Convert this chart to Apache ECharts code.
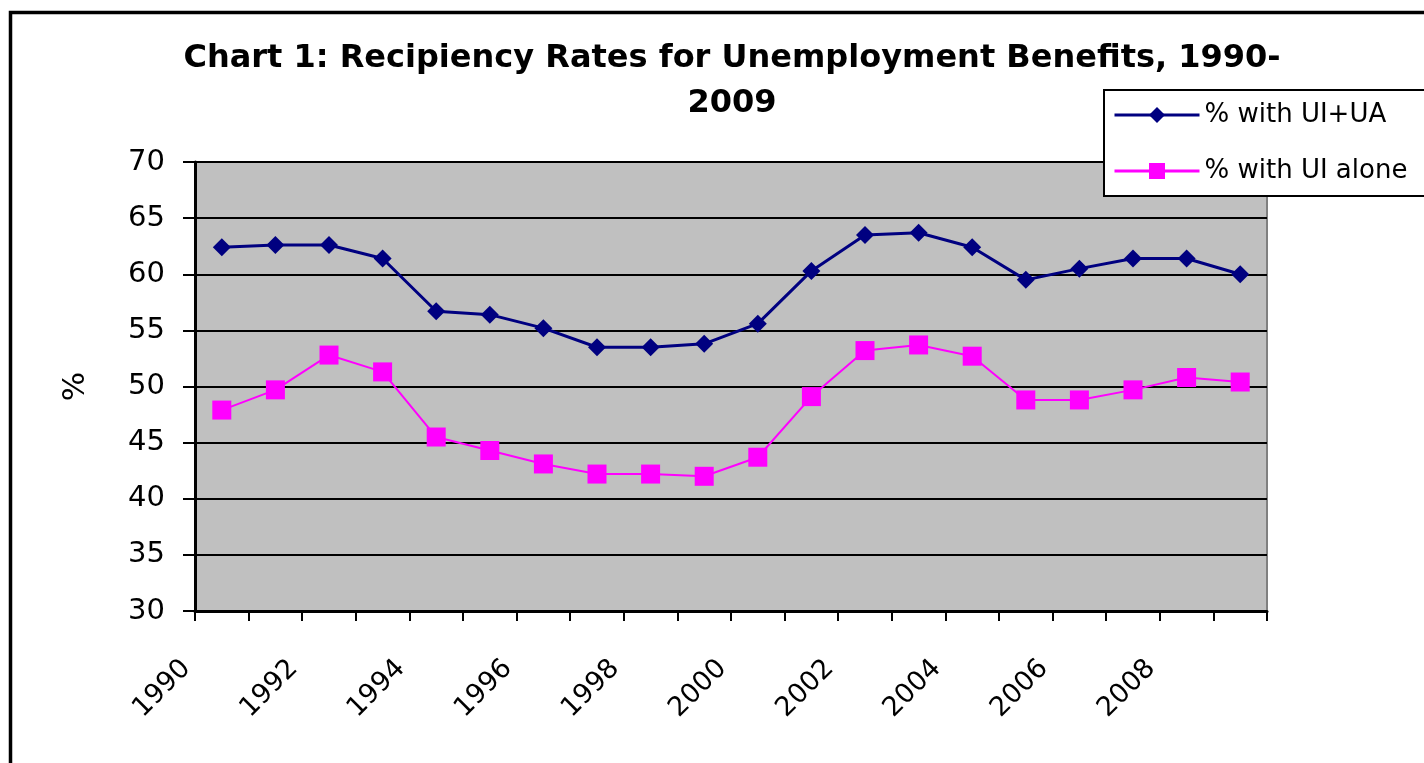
<!DOCTYPE html>
<html>
<head>
<meta charset="utf-8">
<script src="https://cdn.jsdelivr.net/npm/echarts@6/dist/echarts.min.js"></script>
<style>
html,body{margin:0;padding:0;background:#fff;}
#chart{width:1424px;height:763px;}
</style>
</head>
<body>
<div id="chart"></div>
<script>
var years = ['1990','1991','1992','1993','1994','1995','1996','1997','1998','1999',
             '2000','2001','2002','2003','2004','2005','2006','2007','2008','2009'];
var uiUa = [62.4,62.6,62.6,61.4,56.7,56.4,55.2,53.5,53.5,53.8,
            55.6,60.3,63.5,63.7,62.4,59.5,60.5,61.4,61.4,60.0];
var uiAlone = [47.9,49.7,52.8,51.3,45.5,44.3,43.1,42.2,42.2,42.0,
               43.7,49.1,53.2,53.7,52.7,48.8,48.8,49.7,50.8,50.4];
var seriesNames = ['% with UI+UA','% with UI alone'];
var titleText = 'Chart 1: Recipiency Rates for Unemployment Benefits, 1990-\n2009';
var yTicks = {min:30, max:70, step:5};

var FONT = 'DejaVu Sans';
var chart = echarts.init(document.getElementById('chart'), null, {renderer:'canvas'});
chart.setOption({
  backgroundColor:'#ffffff',
  animation:false,
  title:{
    text:titleText,
    left:727, top:31, textAlign:'center',
    textStyle:{fontFamily:FONT, fontWeight:'bold', fontSize:32, color:'#000', lineHeight:45}
  },
  legend:{
    orient:'vertical', left:1104, top:90,
    backgroundColor:'#ffffff', borderColor:'#000', borderWidth:2,
    padding:[12,60,12,9],
    itemWidth:85, itemHeight:20, itemGap:30,
    lineStyle:{width:3},
    textStyle:{fontFamily:FONT, fontSize:26, color:'#000'},
    data:seriesNames
  },
  grid:{
    left:195, right:157, top:162, bottom:152,
    show:true, backgroundColor:'#c0c0c0', borderColor:'#808080', borderWidth:2
  },
  xAxis:{
    type:'category', data:years, boundaryGap:true,
    axisLine:{show:true, lineStyle:{color:'#000', width:3}},
    axisTick:{show:true, interval:0, length:10, lineStyle:{color:'#000', width:2}},
    axisLabel:{interval:1, rotate:45, margin:18, padding:[0,50,0,0],
               fontFamily:FONT, fontSize:27, color:'#000'},
    splitLine:{show:false}
  },
  yAxis:{
    type:'value', min:yTicks.min, max:yTicks.max, interval:yTicks.step,
    name:'%', nameLocation:'middle', nameGap:104, nameRotate:90,
    nameTextStyle:{fontFamily:FONT, fontSize:31, color:'#000'},
    axisLine:{show:true, lineStyle:{color:'#000', width:3}},
    axisTick:{show:true, length:12, lineStyle:{color:'#000', width:2}},
    axisLabel:{margin:30, fontFamily:FONT, fontSize:29, color:'#000'},
    splitLine:{show:true, lineStyle:{color:'#000', width:2}}
  },
  series:[
    {name:seriesNames[0], type:'line', data:uiUa,
     symbol:'diamond', symbolSize:18, showAllSymbol:true,
     lineStyle:{color:'#000080', width:3}, itemStyle:{color:'#000080'}},
    {name:seriesNames[1], type:'line', data:uiAlone,
     symbol:'rect', symbolSize:19, showAllSymbol:true,
     lineStyle:{color:'#ff00ff', width:2}, itemStyle:{color:'#ff00ff'}}
  ],
  graphic:[
    {type:'rect', left:8, top:10, z:100, silent:true,
     shape:{x:0, y:0, width:1600, height:900},
     style:{fill:null, stroke:'#000', lineWidth:3.5}}
  ]
});
</script>
</body>
</html>
